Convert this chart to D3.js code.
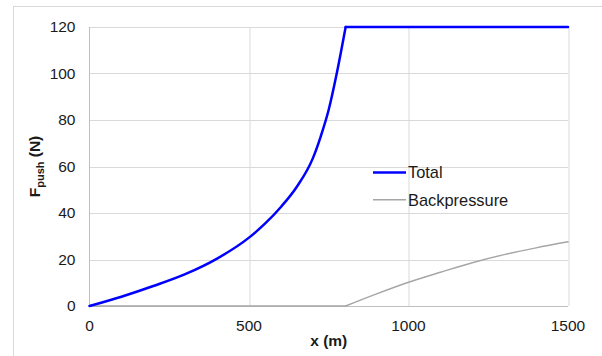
<!DOCTYPE html>
<html>
<head>
<meta charset="utf-8">
<script src="https://cdn.jsdelivr.net/npm/d3@7"></script>
<style>
  body { margin: 0; background: #fff; }
  text { font-family: "Liberation Sans", Arial, sans-serif; fill: #1a1a1a; }
</style>
</head>
<body>
<script>
// values
let xTicks = [0, 500, 1000, 1500];
let yTicks = [0, 20, 40, 60, 80, 100, 120];

// total: rising part, then flat at the cap
let totalX = [0, 100, 200, 300, 400, 500, 550, 600, 650, 700, 725, 750, 775, 803];
let totalY = [0, 4, 8.6, 13.7, 20.4, 29.4, 35.4, 42.6, 51.3, 63.5, 73, 84.5, 100, 120];
let capX = [803, 1500];
let capY = [120, 120];

let backX = [803, 900, 1000, 1100, 1200, 1300, 1400, 1500];
let backY = [0, 5.2, 10.2, 14.5, 18.6, 22.1, 25, 27.6];
let backFlatX = [0, 803];
let backFlatY = [0, 0];

let seriesNames = ["Total", "Backpressure"];
let seriesColors = ["#0000ff", "#a6a6a6"];
let seriesWidths = [2.5, 1.5];

let W = 602, H = 356;
let margin = {top: 27, right: 34, bottom: 50, left: 89.5},
	width = W - margin.left - margin.right,
	height = H - margin.top - margin.bottom;

let x = d3.scaleLinear().domain([0, 1500]).range([0, width]),
	y = d3.scaleLinear().domain([0, 120]).range([height, 0]);

let svg = d3.select("body").append("svg")
	.attr("width", W)
	.attr("height", H);

// outer chart frame
svg.append("rect")
	.attr("x", 13.5).attr("y", 6.5)
	.attr("width", W).attr("height", H)
	.attr("fill", "none")
	.attr("stroke", "#d9d9d9");

let g = svg.append("g")
	.attr("transform", "translate(" + margin.left + "," + margin.top + ")");

// grid
g.selectAll(".hgrid").data(yTicks.slice(1)).enter().append("line")
	.attr("x1", 0).attr("x2", width)
	.attr("y1", d => Math.round(y(d)) + 0.5).attr("y2", d => Math.round(y(d)) + 0.5)
	.attr("stroke", "#d9d9d9");
g.selectAll(".vgrid").data(xTicks.slice(1)).enter().append("line")
	.attr("x1", d => Math.round(x(d)) + 0.5).attr("x2", d => Math.round(x(d)) + 0.5)
	.attr("y1", 0).attr("y2", height)
	.attr("stroke", "#d9d9d9");

// axes lines
g.append("line").attr("x1", 0).attr("x2", 0).attr("y1", 0).attr("y2", height)
	.attr("stroke", "#bfbfbf");
g.append("line").attr("x1", 0).attr("x2", width).attr("y1", height + 0.5).attr("y2", height + 0.5)
	.attr("stroke", "#bfbfbf");

// tick labels
g.selectAll(".ylab").data(yTicks).enter().append("text")
	.attr("x", -14).attr("y", d => y(d))
	.attr("dy", "0.35em")
	.attr("text-anchor", "end")
	.style("font-size", "15.5px")
	.text(d => d);
g.selectAll(".xlab").data(xTicks).enter().append("text")
	.attr("x", d => x(d)).attr("y", height + 20)
	.attr("dy", "0.35em")
	.attr("text-anchor", "middle")
	.style("font-size", "15.5px")
	.text(d => d);

// axis titles
g.append("text")
	.attr("x", width / 2).attr("y", height + 40)
	.attr("text-anchor", "middle")
	.style("font-size", "15.5px").style("font-weight", "bold")
	.text("x (m)");

let yt = g.append("text")
	.attr("transform", "translate(-50," + (height / 2) + ") rotate(-90)")
	.attr("text-anchor", "middle")
	.style("font-size", "15.5px").style("font-weight", "bold");
yt.append("tspan").text("F");
yt.append("tspan").attr("dy", 4).style("font-size", "11px").text("push");
yt.append("tspan").attr("dy", -4).text(" (N)");

// lines
let smooth = d3.line().x(d => x(d[0])).y(d => y(d[1])).curve(d3.curveMonotoneX);
let straight = d3.line().x(d => x(d[0])).y(d => y(d[1]));

let pieces = [
	{d: straight(d3.zip(backFlatX, backFlatY)), i: 1},
	{d: smooth(d3.zip(backX, backY)), i: 1},
	{d: smooth(d3.zip(totalX, totalY)), i: 0},
	{d: straight(d3.zip(capX, capY)), i: 0}
];

g.selectAll(".series").data(pieces).enter().append("path")
	.attr("d", p => p.d)
	.attr("fill", "none")
	.attr("stroke", p => seriesColors[p.i])
	.attr("stroke-width", p => seriesWidths[p.i])
	.attr("stroke-linejoin", "round")
	.attr("stroke-linecap", "round");

// legend
let leg = svg.append("g").attr("transform", "translate(373,172.5)");
seriesNames.forEach(function(name, i) {
	let row = leg.append("g").attr("transform", "translate(0," + (i * 27.3) + ")");
	row.append("line").attr("x1", 0).attr("x2", 33).attr("y1", 0).attr("y2", 0)
		.attr("stroke", seriesColors[i]).attr("stroke-width", seriesWidths[i]);
	row.append("text").attr("x", 35).attr("y", 0).attr("dy", "0.35em")
		.style("font-size", "16.4px").text(name);
});
</script>
</body>
</html>
